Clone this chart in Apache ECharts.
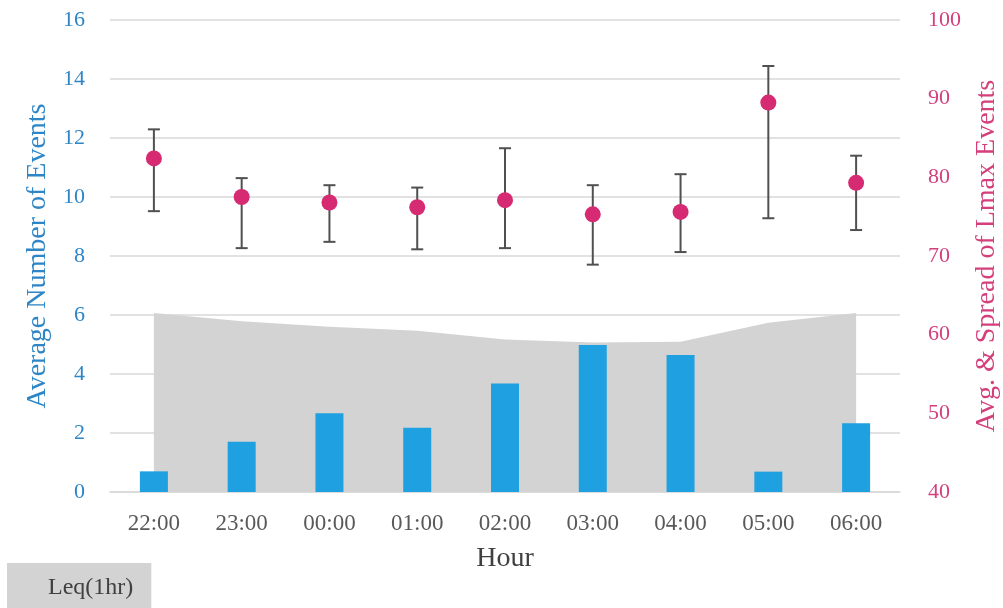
<!DOCTYPE html>
<html>
<head>
<meta charset="utf-8">
<script src="https://cdn.jsdelivr.net/npm/echarts@6/dist/echarts.min.js"></script>
<style>html,body{margin:0;padding:0;background:#fff;}#c{width:1003px;height:608px;}</style>
</head>
<body>
<div id="c"></div>
<script>
const hours = ['22:00','23:00','00:00','01:00','02:00','03:00','04:00','05:00','06:00'];
const avgEvents = [0.7, 1.7, 2.67, 2.18, 3.68, 4.98, 4.64, 0.69, 2.33];
const leq1hr = [62.75, 61.7, 61.0, 60.5, 59.4, 59.0, 59.1, 61.5, 62.75];
const lmaxAvg = [82.4, 77.5, 76.8, 76.2, 77.1, 75.3, 75.6, 89.5, 79.3];
const lmaxLow = [75.7, 71.0, 71.8, 70.85, 71.0, 68.9, 70.5, 74.8, 73.3];
const lmaxHigh = [86.1, 79.9, 79.0, 78.7, 83.7, 79.0, 80.4, 94.15, 82.75];

const serif = '"Liberation Serif", "DejaVu Serif", serif';
const chart = echarts.init(document.getElementById('c'), null, {renderer: 'canvas'});
const errData = hours.map((h, i) => [i, lmaxLow[i], lmaxHigh[i]]);

chart.setOption({
  backgroundColor: '#ffffff',
  animation: false,
  grid: {left: 110, right: 103, top: 20, bottom: 116, containLabel: false, outerBoundsMode: 'none'},
  legend: {
    data: ['Leq(1hr)'],
    left: 7, top: 563,
    backgroundColor: '#d3d3d3',
    borderRadius: 0,
    padding: [12, 18, 12, 36],
    itemWidth: 0, itemHeight: 0, itemGap: 0,
    textStyle: {fontFamily: serif, fontSize: 24, lineHeight: 26, color: '#404040'}
  },
  xAxis: {
    type: 'category',
    data: hours,
    name: 'Hour',
    nameLocation: 'middle',
    nameGap: 53,
    nameTextStyle: {fontFamily: serif, fontSize: 28, color: '#404040'},
    axisLine: {show: true, lineStyle: {color: '#d9d9d9', width: 1.5}},
    axisTick: {show: false},
    axisLabel: {fontFamily: serif, fontSize: 23, color: '#595959', margin: 20}
  },
  yAxis: [
    {
      type: 'value', min: 0, max: 16, interval: 2,
      name: 'Average Number of Events',
      nameLocation: 'middle', nameGap: 56, nameRotate: 90,
      nameTextStyle: {fontFamily: serif, fontSize: 28, color: '#2e86c6'},
      axisLine: {show: false}, axisTick: {show: false},
      axisLabel: {fontFamily: serif, fontSize: 22, color: '#2e86c6', margin: 25},
      splitLine: {lineStyle: {color: '#d9d9d9', width: 1.5}}
    },
    {
      type: 'value', min: 40, max: 100, interval: 10,
      name: 'Avg. & Spread of Lmax Events',
      nameLocation: 'middle', nameGap: 73, nameRotate: 90,
      nameTextStyle: {fontFamily: serif, fontSize: 28, color: '#d4407c'},
      axisLine: {show: false}, axisTick: {show: false},
      axisLabel: {fontFamily: serif, fontSize: 22, color: '#d4407c', margin: 28},
      splitLine: {show: false}
    }
  ],
  series: [
    {
      name: 'Leq(1hr)',
      type: 'line',
      yAxisIndex: 1,
      data: leq1hr,
      symbol: 'none',
      lineStyle: {width: 0},
      itemStyle: {color: '#d3d3d3'},
      areaStyle: {color: '#d3d3d3', opacity: 1},
      z: 1
    },
    {
      name: 'Average Number of Events',
      type: 'bar',
      yAxisIndex: 0,
      data: avgEvents,
      barWidth: 28,
      itemStyle: {color: '#1fa0e0'},
      z: 2
    },
    {
      name: 'Spread',
      type: 'custom',
      yAxisIndex: 1,
      data: errData,
      z: 3,
      renderItem: function (params, api) {
        const x = api.value(0);
        const lo = api.coord([x, api.value(1)]);
        const hi = api.coord([x, api.value(2)]);
        const cw = 6;
        const st = {stroke: '#505050', lineWidth: 2};
        return {
          type: 'group',
          children: [
            {type: 'line', shape: {x1: lo[0], y1: lo[1], x2: hi[0], y2: hi[1]}, style: st},
            {type: 'line', shape: {x1: lo[0] - cw, y1: lo[1], x2: lo[0] + cw, y2: lo[1]}, style: st},
            {type: 'line', shape: {x1: hi[0] - cw, y1: hi[1], x2: hi[0] + cw, y2: hi[1]}, style: st}
          ]
        };
      }
    },
    {
      name: 'Avg Lmax',
      type: 'scatter',
      yAxisIndex: 1,
      data: lmaxAvg,
      symbolSize: 16,
      itemStyle: {color: '#d62a72', opacity: 1},
      z: 4
    }
  ]
});
</script>
</body>
</html>
